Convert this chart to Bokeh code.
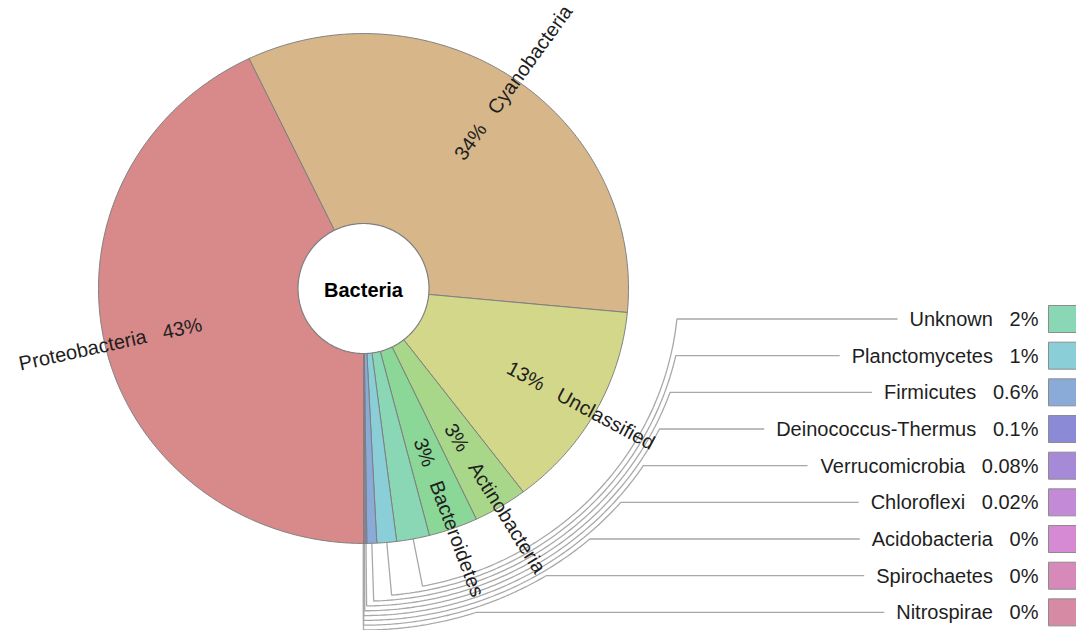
import numpy as np
from bokeh.plotting import figure
from bokeh.models import Range1d
from bokeh.core.properties import value
from bokeh.embed import file_html
from bokeh.resources import INLINE

# ---------------- data ----------------
root_label = "Bacteria"
taxa = ["Proteobacteria", "Cyanobacteria", "Unclassified", "Actinobacteria",
        "Bacteroidetes", "Unknown", "Planctomycetes", "Firmicutes",
        "Deinococcus-Thermus", "Verrucomicrobia", "Chloroflexi",
        "Acidobacteria", "Spirochaetes", "Nitrospirae"]
percent = [42.9, 33.6, 13.2, 3.3, 3.0, 2.0, 1.2, 0.6, 0.1, 0.08, 0.02, 0.0, 0.0, 0.0]
colors = ["#d88989", "#d7b78a", "#d3d78a", "#a8d78a", "#8ad797", "#8ad7b6",
          "#8acfd7", "#8aaad7", "#8a8ad7", "#a68ad7", "#c38ad7", "#d78ad4",
          "#d78aba", "#d78aa3"]

# ---------------- layout / style ----------------
W, H = 1076, 630
CX, CY = 363.0, 288.0
R_OUT = 265.0
K = 0.962                 # vertical squash of the reference
R_IN = (65.5, 65.0)
LABEL_R = 166.0
LABEL_MIN = 2.5
KEY_TEXT_X = 1038.0
KEY_Y0, KEY_DY = 318.5, 36.67
KEY_R0, KEY_DR = 315.0, 5.0
KEY_GAP = 12.0
BOX_X0, BOX_W, BOX_H = 1048.0, 40.0, 27.0
FONT = "Liberation Sans"
FS = 20
EDGE = "#7f7f7f"
KEYLINE = "#a8a8a8"
TEXT = "#1e1e1e"
NB3 = "\u00a0\u00a0\u00a0"

AW = {" ": 278, "\u00a0": 278, "%": 889, "-": 333, ".": 278,
      "A": 667, "B": 667, "C": 722, "D": 722, "F": 611, "N": 722, "P": 667,
      "S": 667, "T": 611, "U": 722, "V": 667,
      "a": 556, "b": 556, "c": 500, "d": 556, "e": 556, "f": 278, "h": 556,
      "i": 222, "k": 500, "l": 222, "m": 833, "n": 556, "o": 556, "p": 556,
      "r": 333, "s": 500, "t": 278, "u": 556, "w": 722, "x": 500, "y": 500}


def text_width(s):
    return sum(AW.get(c, 556) for c in s) * FS / 1000.0


def fmt_pct(v):
    if v >= 1:
        return f"{int(round(v))}%"
    if v == 0:
        return "0%"
    return f"{v:.1g}%"


def pt(r, t_deg):
    t = np.radians(t_deg)
    return CX + r * np.sin(t), CY - K * r * np.cos(t)


vals = np.array(percent, dtype=float)
frac = vals / vals.sum()
t_start = 180.0 + 360.0 * np.concatenate([[0.0], np.cumsum(frac)[:-1]])
t_end = t_start + 360.0 * frac
t_mid = (t_start + t_end) / 2.0

p = figure(width=W, height=H, x_range=Range1d(0, W), y_range=Range1d(H, 0),
           output_backend="svg", toolbar_location=None, min_border=0,
           x_axis_location=None, y_axis_location=None)
p.grid.visible = False
p.outline_line_color = None
p.background_fill_color = "white"
p.border_fill_color = "white"

# ---------------- key lines ----------------
small = [i for i in range(len(taxa)) if percent[i] < LABEL_MIN]
kxs, kys = [], []
key_rows = []
for j, i in enumerate(small):
    yk = KEY_Y0 + j * KEY_DY
    R = KEY_R0 + j * KEY_DR
    tm = t_mid[i] % 360.0
    x0, y0 = pt(R_OUT, tm)
    label = taxa[i] + NB3 + fmt_pct(percent[i])
    line_end = KEY_TEXT_X - text_width(label) - KEY_GAP
    bx, by = pt(R, tm)
    if yk >= by:
        rr = (yk - CY) / (-K * np.cos(np.radians(tm)))
        x1, y1 = pt(rr, tm)
        xs = [x0, x1, line_end]
        ys = [y0, y1, yk]
    else:
        tb = np.degrees(np.arccos(np.clip((CY - yk) / (K * R), -1, 1)))
        tt = np.linspace(tm, tb, 90)
        ax_, ay_ = pt(R, tt)
        xs = [x0] + ax_.tolist() + [line_end]
        ys = [y0] + ay_.tolist() + [yk]
    kxs.append(xs)
    kys.append(ys)
    key_rows.append((yk, label, colors[i]))
p.multi_line(kxs, kys, line_color=KEYLINE, line_width=1.3)

# ---------------- slices ----------------
sx, sy = [], []
for a, b in zip(t_start, t_end):
    n = max(2, int(np.ceil((b - a) / 0.5)) + 1)
    tt = np.linspace(a, b, n)
    px, py = pt(R_OUT, tt)
    sx.append([CX] + px.tolist())
    sy.append([CY] + py.tolist())
p.patches(sx, sy, fill_color=colors, line_color=EDGE, line_width=1)

tt = np.radians(np.linspace(0, 360, 241))
p.patch(CX + R_IN[0] * np.sin(tt), CY - R_IN[1] * np.cos(tt),
        fill_color="white", line_color=EDGE, line_width=1.2)
p.text([CX], [CY + 1], text=[root_label], text_font=value(FONT), text_font_size="20px",
       text_font_style="bold", text_align="center", text_baseline="middle",
       text_color="black")

# ---------------- in-wedge labels ----------------
for i in range(len(taxa)):
    if percent[i] < LABEL_MIN:
        continue
    tm = t_mid[i] % 360.0
    t = np.radians(tm)
    ang = float(np.arctan2(K * np.cos(t), np.sin(t)))
    ax_, ay_ = pt(LABEL_R, tm)
    if tm < 180:
        txt, align, a = fmt_pct(percent[i]) + NB3 + taxa[i], "left", ang
    else:
        txt, align, a = taxa[i] + NB3 + fmt_pct(percent[i]), "right", ang + np.pi
    p.text([float(ax_)], [float(ay_)], text=[txt], angle=a, text_font=value(FONT),
           text_font_size=f"{FS}px", text_align=align, text_baseline="middle",
           text_color=TEXT)

# ---------------- key labels & boxes ----------------
ky = [r[0] for r in key_rows]
p.text([KEY_TEXT_X] * len(ky), ky, text=[r[1] for r in key_rows], text_font=value(FONT),
       text_font_size=f"{FS}px", text_align="right", text_baseline="middle",
       text_color=TEXT)
p.quad(left=[BOX_X0] * len(ky), right=[BOX_X0 + BOX_W] * len(ky),
       top=[y - BOX_H / 2 for y in ky], bottom=[y + BOX_H / 2 for y in ky],
       fill_color=[r[2] for r in key_rows], line_color="#8c8c8c", line_width=1)

open("out.html", "w").write(file_html(p, INLINE))
